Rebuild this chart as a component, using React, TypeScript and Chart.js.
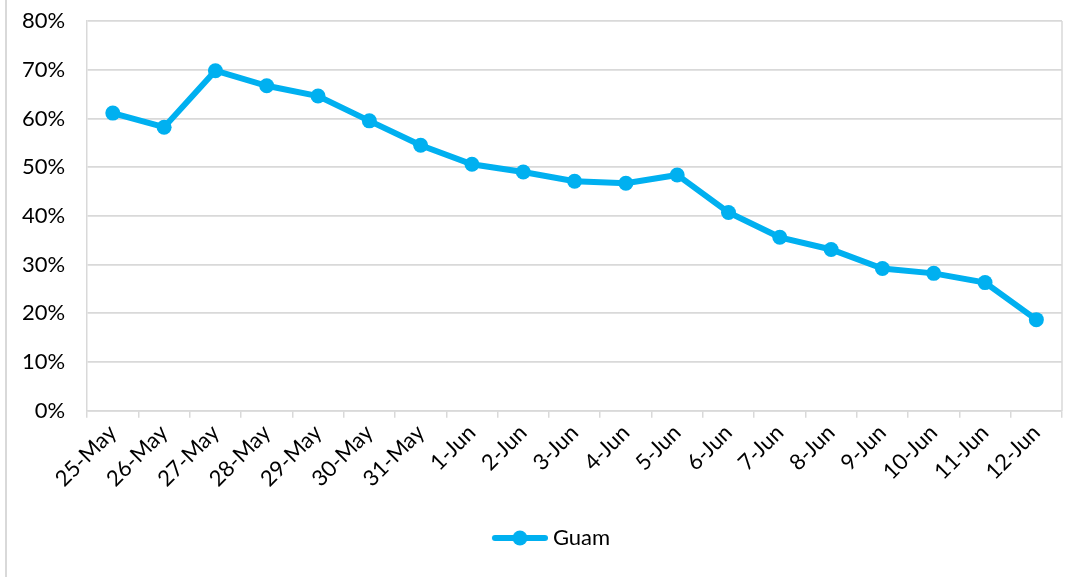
import React, { useEffect, useRef } from "react";
import { Chart, registerables } from "chart.js";

Chart.register(...registerables);

const categories = [
  "25-May", "26-May", "27-May", "28-May", "29-May", "30-May", "31-May",
  "1-Jun", "2-Jun", "3-Jun", "4-Jun", "5-Jun", "6-Jun", "7-Jun", "8-Jun",
  "9-Jun", "10-Jun", "11-Jun", "12-Jun",
];
const guamValues = [
  61.1, 58.2, 69.8, 66.7, 64.6, 59.5, 54.5, 50.6, 49.0, 47.1, 46.7, 48.4,
  40.7, 35.6, 33.1, 29.2, 28.2, 26.3, 18.7,
];
const seriesName = "Guam";
const yMin = 0;
const yMax = 80;
const yStep = 10;

const LINE_COLOR = "#00B0F0";
const GRID_COLOR = "#D9D9D9";
const FONT = "Lato, 'Open Sans', sans-serif";
const FONT_SIZE = 22;

const LEGEND_BOX = 90;

function makeLegendIcon(): HTMLCanvasElement {
  const c = document.createElement("canvas");
  const w = LEGEND_BOX + 12;
  c.width = w;
  c.height = 18;
  const g = c.getContext("2d")!;
  const start = w - 56;
  g.strokeStyle = LINE_COLOR;
  g.lineWidth = 6;
  g.lineCap = "round";
  g.beginPath();
  g.moveTo(start + 3, 9);
  g.lineTo(w - 3, 9);
  g.stroke();
  g.fillStyle = LINE_COLOR;
  g.beginPath();
  g.arc(start + 28, 9, 7.5, 0, Math.PI * 2);
  g.fill();
  return c;
}

const rightBorder = {
  id: "rightBorder",
  afterDraw(chart: any) {
    const { ctx, chartArea } = chart;
    ctx.save();
    ctx.strokeStyle = GRID_COLOR;
    ctx.lineWidth = 1.5;
    ctx.beginPath();
    ctx.moveTo(chartArea.right, chartArea.top);
    ctx.lineTo(chartArea.right, chartArea.bottom);
    ctx.stroke();
    ctx.restore();
  },
};

export default function App() {
  const ref = useRef<HTMLCanvasElement>(null);
  useEffect(() => {
    document.body.style.margin = "0";
    const icon = makeLegendIcon();
    const chart = new Chart(ref.current!, {
      type: "line",
      data: {
        labels: categories,
        datasets: [
          {
            label: seriesName,
            data: guamValues,
            borderColor: LINE_COLOR,
            backgroundColor: LINE_COLOR,
            borderWidth: 6,
            pointStyle: "circle",
            pointRadius: 7.5,
            pointHoverRadius: 7.5,
            pointBackgroundColor: LINE_COLOR,
            pointBorderColor: LINE_COLOR,
            pointBorderWidth: 0,
            tension: 0,
          },
        ],
      },
      options: {
        animation: false,
        responsive: false,
        maintainAspectRatio: false,
        devicePixelRatio: 1,
        layout: { padding: { left: 0, right: 18, top: 0, bottom: 18 } },
        plugins: {
          tooltip: { enabled: false },
          legend: {
            position: "bottom",
            labels: {
              usePointStyle: true,
              pointStyleWidth: LEGEND_BOX,
              color: "#000",
              font: { family: FONT, size: FONT_SIZE },
              padding: 33,
              generateLabels: () => [
                {
                  text: seriesName,
                  pointStyle: icon,
                  fillStyle: LINE_COLOR,
                  strokeStyle: LINE_COLOR,
                  lineWidth: 0,
                  hidden: false,
                  datasetIndex: 0,
                  fontColor: "#000",
                },
              ],
            },
          },
        },
        scales: {
          x: {
            offset: true,
            grid: {
              offset: true,
              drawOnChartArea: false,
              drawTicks: true,
              tickLength: 7,
              tickColor: GRID_COLOR,
              lineWidth: 1.5,
              color: GRID_COLOR,
            },
            border: { display: true, color: GRID_COLOR, width: 1.5 },
            ticks: {
              color: "#000",
              font: { family: FONT, size: FONT_SIZE },
              minRotation: 45,
              maxRotation: 45,
              autoSkip: false,
              padding: 2,
            },
          },
          y: {
            min: yMin,
            max: yMax,
            afterFit: (scale: any) => {
              scale.paddingTop = 21;
              scale.paddingBottom = 13;
            },
            grid: {
              color: GRID_COLOR,
              lineWidth: 1.7,
              drawTicks: false,
            },
            border: { display: true, color: GRID_COLOR, width: 1.5 },
            ticks: {
              stepSize: yStep,
              color: "#000",
              font: { family: FONT, size: FONT_SIZE },
              padding: 22,
              callback: (v: any) => `${v}%`,
            },
          },
        },
      },
      plugins: [rightBorder],
    } as any);
    return () => chart.destroy();
  }, []);
  return (
    <div style={{ position: "relative", width: 1080, height: 577, background: "#fff" }}>
      <div
        style={{
          position: "absolute",
          left: 5,
          top: 0,
          width: 2,
          height: 577,
          background: "#D9D9D9",
        }}
      />
      <canvas ref={ref} width={1080} height={577} style={{ display: "block" }} />
    </div>
  );
}
